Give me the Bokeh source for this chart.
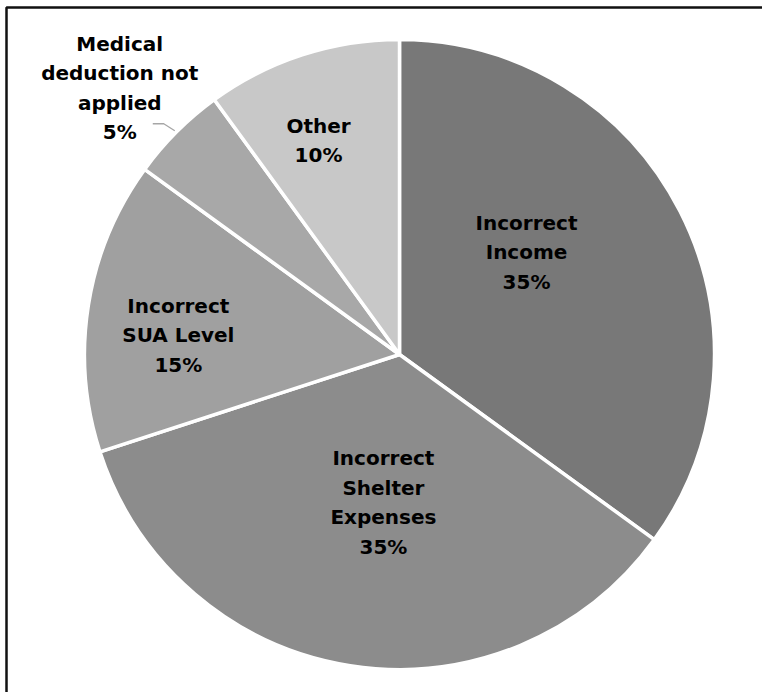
import numpy as np
from bokeh.plotting import figure
from bokeh.embed import file_html
from bokeh.resources import INLINE
from bokeh.core.properties import value

# ---- data ----
categories = ["Incorrect Income", "Incorrect Shelter Expenses", "Incorrect SUA Level",
              "Medical deduction not applied", "Other"]
label_lines = [["Incorrect", "Income"], ["Incorrect", "Shelter", "Expenses"],
               ["Incorrect", "SUA Level"], ["Medical", "deduction not", "applied"], ["Other"]]
values = [35, 35, 15, 5, 10]
colors = ["#787878", "#8c8c8c", "#a0a0a0", "#a8a8a8", "#c8c8c8"]

# ---- layout ----
W, H = 762, 692
cx, cy = 399, H - 354
R = 315
# label placement: (angle offset from mid-angle in deg, radius in px); None = outside label
label_place = [(11.8, 163), (2.8, 149), (4.0, 222), None, (2.7, 229)]
FONT = "DejaVu Sans"
FS = "20px"
LH = 29.5

p = figure(width=W, height=H, x_range=(0, W), y_range=(0, H),
           output_backend="svg", toolbar_location=None, min_border=0)
p.axis.visible = False
p.grid.visible = False
p.outline_line_color = None
p.background_fill_color = "white"

vals = np.array(values, dtype=float)
frac = vals / vals.sum()
ends = np.cumsum(frac)
starts = ends - frac
start_ang = np.deg2rad(90 - 360 * starts)
end_ang = np.deg2rad(90 - 360 * ends)
mid_ang = (start_ang + end_ang) / 2

p.wedge(x=cx, y=cy, radius=R, start_angle=start_ang, end_angle=end_ang,
        direction="clock", fill_color=colors, line_color="white", line_width=3.5)

for i, cat in enumerate(categories):
    pct = f"{values[i]}%"
    lines = label_lines[i] + [pct]
    if label_place[i] is not None:
        da, r = label_place[i]
        a = mid_ang[i] + np.deg2rad(da)
        lx = cx + r * np.cos(a)
        ly = cy + r * np.sin(a)
    else:
        # outside label, upper-left of the slice
        ex = cx + R * np.cos(mid_ang[i])
        ey = cy + R * np.sin(mid_ang[i])
        lx = ex - 57
        ly = ey + 44
        # leader line
        p.line(x=[ex - 24, ex - 13, ex - 2], y=[ey + 8, ey + 8, ey + 1],
               line_color="#a6a6a6", line_width=1.3)
    n = len(lines)
    ys = [ly + (n - 1) / 2 * LH - k * LH for k in range(n)]
    p.text(x=[lx] * n, y=ys, text=lines, text_align="center", text_baseline="middle",
           text_font=value(FONT), text_font_size=FS, text_font_style="bold",
           text_color="#000000")

# frame border (top and left visible)
p.line(x=[6, 6, W + 5], y=[-5, H - 7, H - 7], line_color="#111111", line_width=2.5)

open("out.html", "w").write(file_html(p, INLINE))
